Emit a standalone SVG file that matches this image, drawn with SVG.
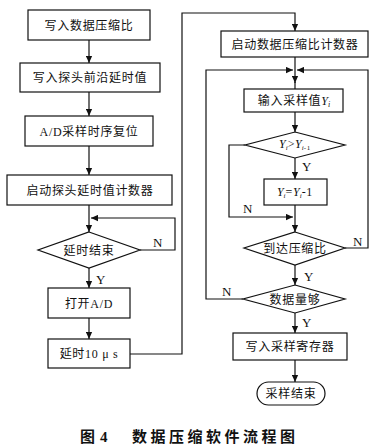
<svg xmlns="http://www.w3.org/2000/svg" width="382" height="448" viewBox="0 0 382 448">
<style>
.b{fill:#fff;stroke:#111;stroke-width:1.2}
.l{fill:none;stroke:#111;stroke-width:1.2}
.t{font-family:"Liberation Serif","Noto Sans CJK SC",serif;font-size:12px;letter-spacing:0.7px;fill:#111;text-anchor:middle}
.yn{font-family:"Liberation Serif",serif;font-size:13px;fill:#111}
.i{font-family:"Liberation Serif",serif;font-style:italic;letter-spacing:0}
.cap{font-family:"Liberation Serif","Noto Sans CJK SC",serif;font-size:15px;font-weight:bold;fill:#111}
</style>
<defs>
<marker id="a" viewBox="0 0 10 10" refX="10" refY="5" markerWidth="7" markerHeight="7" markerUnits="userSpaceOnUse" orient="auto">
<path d="M0,0.5 L10,5 L0,9.5 z" fill="#111"/>
</marker>
</defs>
<rect width="382" height="448" fill="#fff"/>
<g id="connectors">
<path class="l" d="M89,40 V63" marker-end="url(#a)"/>
<path class="l" d="M89,92 V116" marker-end="url(#a)"/>
<path class="l" d="M89,146 V175" marker-end="url(#a)"/>
<path class="l" d="M89,205 V232" marker-end="url(#a)"/>
<path class="l" d="M140,250 H175 V218 H91" marker-end="url(#a)"/>
<path class="l" d="M89,268 V288" marker-end="url(#a)"/>
<path class="l" d="M89,318 V339" marker-end="url(#a)"/>
<path class="l" d="M130,354 H182 V13 H295 V31" marker-end="url(#a)"/>
<path class="l" d="M295,57 V83" marker-end="url(#a)"/>
<path class="l" d="M295,82 V89"/>
<path class="l" d="M243,299 H206 V70 H293" marker-end="url(#a)"/>
<path class="l" d="M345,248 H368 V70 H297" marker-end="url(#a)"/>
<path class="l" d="M295,112 V132" marker-end="url(#a)"/>
<path class="l" d="M295,158 V179" marker-end="url(#a)"/>
<path class="l" d="M245,145 H229 V217 H293" marker-end="url(#a)"/>
<path class="l" d="M295,205 V232" marker-end="url(#a)"/>
<path class="l" d="M295,265 V285" marker-end="url(#a)"/>
<path class="l" d="M295,313 V333" marker-end="url(#a)"/>
<path class="l" d="M295,360 V382" marker-end="url(#a)"/>
<text class="yn" x="153" y="247">N</text>
<text class="yn" x="96" y="284">Y</text>
<text class="yn" x="302" y="171">Y</text>
<text class="yn" x="243" y="213">N</text>
<text class="yn" x="353" y="246">N</text>
<text class="yn" x="304" y="281">Y</text>
<text class="yn" x="222" y="296">N</text>
<text class="yn" x="302" y="327">Y</text>
</g>
<g id="n1"><rect class="b" x="28" y="10" width="122" height="30"/><text class="t" x="89" y="29.5">写入数据压缩比</text></g>
<g id="n2"><rect class="b" x="20" y="63" width="140" height="29"/><text class="t" x="90" y="82">写入探头前沿延时值</text></g>
<g id="n3"><rect class="b" x="25" y="116" width="128" height="30"/><text class="t" x="89" y="135.5">A/D采样时序复位</text></g>
<g id="n4"><rect class="b" x="7" y="175" width="165" height="30"/><text class="t" x="90" y="194.5">启动探头延时值计数器</text></g>
<g id="n5"><polygon class="b" points="89,232 140,250 89,268 38,250"/><text class="t" x="89" y="254.5">延时结束</text></g>
<g id="n6"><rect class="b" x="48" y="288" width="82" height="30"/><text class="t" x="89" y="307.5">打开A/D</text></g>
<g id="n7"><rect class="b" x="48" y="339" width="82" height="29"/><text class="t" x="89" y="358">延时10 μ s</text></g>
<g id="n8"><rect class="b" x="221" y="31" width="147" height="26"/><text class="t" x="295" y="48.5">启动数据压缩比计数器</text></g>
<g id="n9"><rect class="b" x="244" y="89" width="99" height="23"/><text class="t" x="294" y="105">输入采样值<tspan class="i">Y</tspan><tspan class="i" font-size="8" dy="2">i</tspan></text></g>
<g id="n10"><polygon class="b" points="295,132 345,145 295,158 245,145"/><text class="t" x="295" y="148" font-size="11"><tspan class="i">Y</tspan><tspan class="i" font-size="7" dy="2">i</tspan><tspan dy="-2">&gt;</tspan><tspan class="i">Y</tspan><tspan class="i" font-size="7" dy="2">i</tspan><tspan font-size="7">-1</tspan></text></g>
<g id="n11"><rect class="b" x="264" y="179" width="63" height="26"/><text class="t" x="295" y="196" font-size="11"><tspan class="i">Y</tspan><tspan class="i" font-size="7" dy="2">i</tspan><tspan dy="-2">=</tspan><tspan class="i">Y</tspan><tspan class="i" font-size="7" dy="2">i</tspan><tspan dy="-2">-1</tspan></text></g>
<g id="n12"><polygon class="b" points="295,232 345,248 295,265 244,248"/><text class="t" x="295" y="252.5">到达压缩比</text></g>
<g id="n13"><polygon class="b" points="295,285 345,299 295,313 243,299"/><text class="t" x="295" y="303.5">数据量够</text></g>
<g id="n14"><rect class="b" x="233" y="333" width="114" height="27"/><text class="t" x="290" y="351">写入采样寄存器</text></g>
<g id="n15"><rect class="b" x="257" y="382" width="68" height="23" rx="11.5"/><text class="t" x="291" y="398">采样结束</text></g>
<g id="caption">
<text class="cap" x="80" y="442">图</text>
<text class="cap" x="100" y="442">4</text>
<text class="cap" x="132" y="442" letter-spacing="3.5">数据压缩软件流程图</text>
</g>
</svg>
